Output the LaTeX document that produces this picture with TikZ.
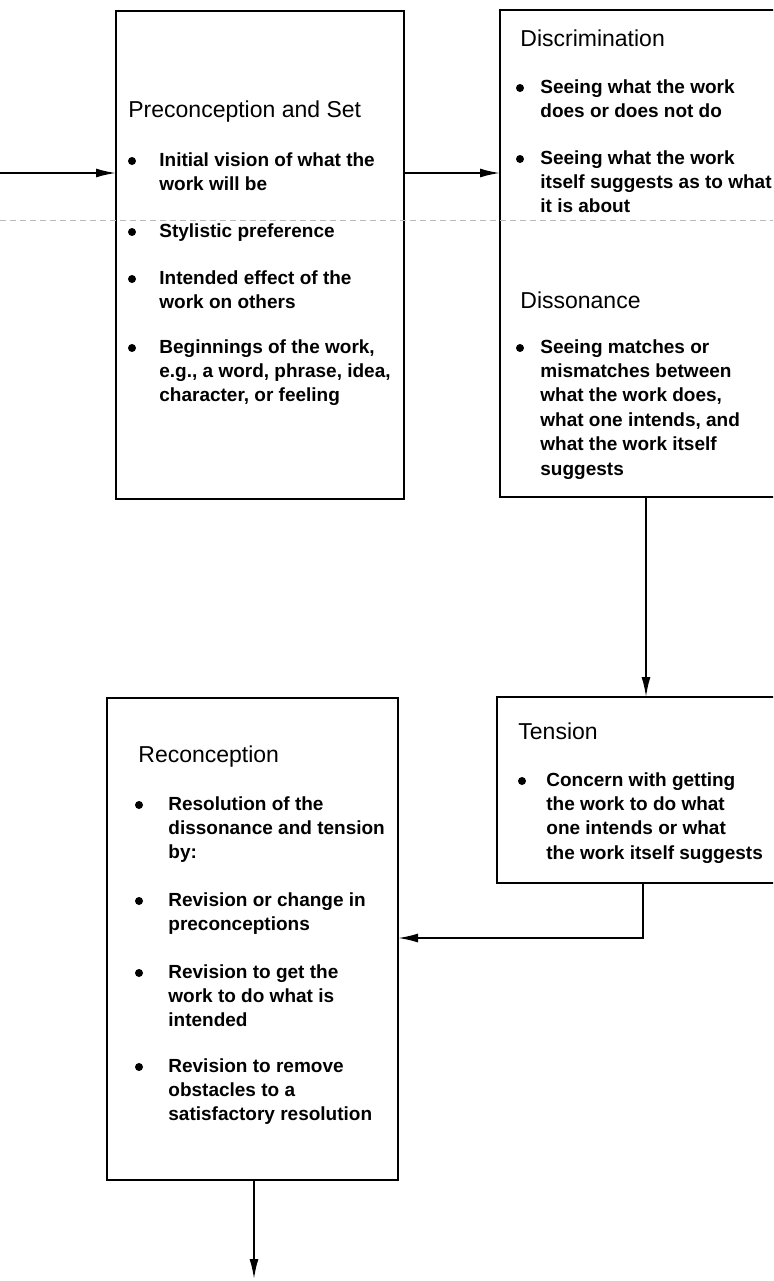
\documentclass[tikz,border=0pt]{standalone}
\usepackage{fontspec}
\setmainfont{Liberation Sans}
\usetikzlibrary{arrows.meta}

\begin{document}
\begin{tikzpicture}[x=0.5pt, y=-0.5pt,
  box/.style={draw, line width=1.1pt, inner sep=0pt, outer sep=0pt, anchor=north west},
  head/.style={anchor=west, inner sep=0pt, font=\fontsize{11.5}{13}\selectfont},
  item/.style={anchor=north west, inner sep=0pt, align=left, font=\bfseries\fontsize{9.5}{12.2}\selectfont},
  dot/.style={circle, fill=black, inner sep=0pt, minimum size=4pt},
  arr/.style={line width=0.9pt, -{Latex[length=10pt, width=4.5pt]}}]
  \clip (0,0) rectangle (773,1281);

  % Boxes
  \node[box, minimum width=144pt, minimum height=244pt] (pre) at (116,11) {};
  \node[box, minimum width=146pt, minimum height=243.5pt] (disc) at (500,10) {};
  \node[box, minimum width=147pt, minimum height=93pt] (tens) at (497,697) {};
  \node[box, minimum width=145.5pt, minimum height=241pt] (rec) at (107,698) {};

  % scan line
  \draw[gray!55, densely dashed, line width=0.4pt] (0,220) -- (773,220);

  % Titles
  \foreach \n/\x/\y/\txt in {h1/128/112/Preconception and Set, h2/520/38/Discrimination,
                            h3/520/300/Dissonance, h4/518/731/Tension, h5/138/757/Reconception}{
    \node[head] (\n) at (\x,\y) {\txt};
  }

  % Bullets
  \foreach \n/\x/\u/\y/\txt in {
      1/132/159/161/{Initial vision of what the\\work will be},
      2/132/159/232/{Stylistic preference},
      3/132/159/279/{Intended effect of the\\work on others},
      4/132/159/348/{Beginnings of the work,\\e.g., a word, phrase, idea,\\character, or feeling},
      5/520/540/88/{Seeing what the work\\does or does not do},
      6/520/540/159/{Seeing what the work\\itself suggests as to what\\it is about},
      7/520/540/348/{Seeing matches or\\mismatches between\\what the work does,\\what one intends, and\\what the work itself\\suggests},
      8/522/546/781/{Concern with getting\\the work to do what\\one intends or what\\the work itself suggests},
      9/139/168/805/{Resolution of the\\dissonance and tension\\by:},
      10/139/168/901/{Revision or change in\\preconceptions},
      11/139/168/973/{Revision to get the\\work to do what is\\intended},
      12/139/168/1067/{Revision to remove\\obstacles to a\\satisfactory resolution}}{
    \node[dot] (d\n) at (\x,\y) {};
    \node[item] (t\n) at (\u,{\y-9}) {\txt};
  }

  % Edges
  \coordinate (in) at (0,173);
  \draw[arr] (in) -- (in -| pre.west);
  \draw[arr] (pre.east |- in) -- (disc.west |- in);
  \coordinate (c1) at (646,0);
  \draw[arr] (disc.south -| c1) -- (tens.north -| c1);
  \coordinate (c2) at (643,938);
  \draw[arr] (tens.south -| c2) |- (rec.east |- c2);
  \coordinate (out) at (254,1279);
  \draw[arr] (rec.south -| out) -- (out);
\end{tikzpicture}
\end{document}
